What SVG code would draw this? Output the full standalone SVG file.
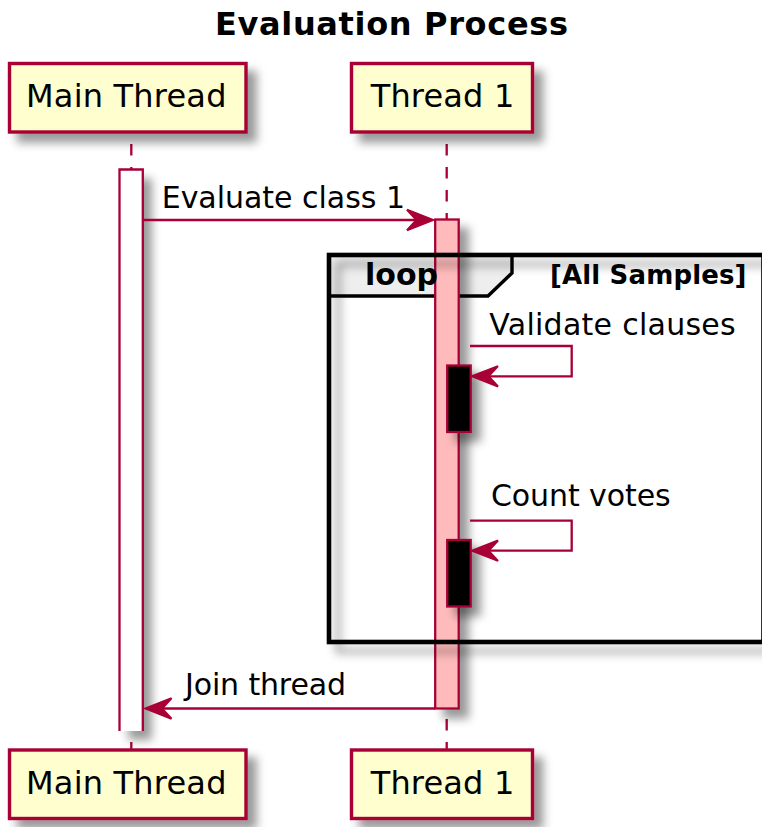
<svg xmlns="http://www.w3.org/2000/svg" width="762" height="827" viewBox="0 0 762 827">
  <defs>
    <filter id="shadow" x="-1" y="-1" width="3" height="3">
      <feGaussianBlur in="SourceAlpha" stdDeviation="4.6" result="blur"/>
      <feOffset in="blur" dx="9" dy="9" result="off"/>
      <feColorMatrix in="off" type="matrix" values="0 0 0 0 0  0 0 0 0 0  0 0 0 0 0  0 0 0 0.4 0" result="shade"/>
      <feMerge>
        <feMergeNode in="shade"/>
        <feMergeNode in="SourceGraphic"/>
      </feMerge>
    </filter>
  </defs>
  <style>
    .head { fill: #FEFECE; stroke: #A80036; stroke-width: 3.4; filter: url(#shadow); }
    .headtxt { font-family: "DejaVu Sans", Verdana, sans-serif; font-size: 32px; fill: #000000; }
    .life { stroke: #A80036; stroke-width: 2.3; stroke-dasharray: 11.5 11.5; stroke-dashoffset: 12; fill: none; }
    .act { stroke: #A80036; stroke-width: 2.3; filter: url(#shadow); }
    .edge { stroke: #A80036; stroke-width: 2.3; fill: none; }
    .msg { stroke: #A80036; stroke-width: 2.3; fill: none; }
    .tip { fill: #A80036; stroke: #A80036; stroke-width: 2; stroke-linejoin: miter; }
    .msgtxt { font-family: "DejaVu Sans", Verdana, sans-serif; font-size: 30px; fill: #000000; }
    .frame { fill: none; stroke: #000000; stroke-width: 4.6; filter: url(#shadow); }
    .tab { fill: #EEEEEE; stroke: #000000; stroke-width: 3.4; }
    .bold { font-family: "DejaVu Sans", Verdana, sans-serif; font-weight: bold; fill: #000000; }
  </style>

  <rect x="0" y="0" width="762" height="827" fill="#FFFFFF"/>

  <text class="bold" x="215" y="35" font-size="32" textLength="353">Evaluation Process</text>

  <!-- lifelines -->
  <g id="lifelines">
    <line class="life" x1="131.3" y1="133" x2="131.3" y2="749"/>
    <line class="life" x1="446.7" y1="133" x2="446.7" y2="749"/>
  </g>

  <!-- participant heads, top and bottom -->
  <g id="main-thread">
    <rect class="head" x="9.5" y="63.5" width="236.5" height="68.5"/>
    <text class="headtxt" x="26" y="107.3" textLength="200.5">Main Thread</text>
    <rect class="head" x="9.5" y="750" width="236.5" height="68.5"/>
    <text class="headtxt" x="26" y="794" textLength="200.5">Main Thread</text>
  </g>
  <g id="thread-1">
    <rect class="head" x="351.5" y="63.5" width="181" height="68.5"/>
    <text class="headtxt" x="370.7" y="107.3" textLength="143.6">Thread 1</text>
    <rect class="head" x="351.5" y="750" width="181" height="68.5"/>
    <text class="headtxt" x="370.7" y="794" textLength="143.6">Thread 1</text>
  </g>

  <!-- loop fragment: tab background -->
  <g id="loop-tab">
    <path class="tab" d="M329,255 H512 V273 L488,296 H329 Z"/>
  </g>

  <!-- activation bars; the main thread bar stays open at the bottom -->
  <g id="activations">
    <rect x="119.5" y="169.5" width="23.3" height="561.5" fill="#FFFFFF" filter="url(#shadow)"/>
    <path class="edge" d="M119.5,731 V169.5 H142.8 V731"/>
    <rect class="act" x="435.2" y="219.5" width="23.5" height="489" fill="#FFBBBB"/>
    <rect class="act" x="447.2" y="365.5" width="23.5" height="66.5" fill="#000000"/>
    <rect class="act" x="447.2" y="540" width="23.5" height="66.5" fill="#000000"/>
  </g>

  <!-- loop fragment outline and labels -->
  <g id="loop-frame">
    <rect class="frame" x="329" y="255" width="434.5" height="387"/>
    <text class="bold" x="365" y="285" font-size="30" textLength="73">loop</text>
    <text class="bold" x="550" y="283.5" font-size="26" textLength="196.5">[All Samples]</text>
  </g>

  <!-- messages -->
  <g id="connectors">
    <line class="msg" x1="142.8" y1="220" x2="428" y2="220"/>
    <polygon class="tip" points="433,220 407,209.8 416.5,220 407,230.2"/>
    <text class="msgtxt" x="161.7" y="208" textLength="243.3">Evaluate class 1</text>

    <path class="msg" d="M470,346 H571.7 V376.3 H476"/>
    <polygon class="tip" points="472,376.3 498,366.1 488.5,376.3 498,386.5"/>
    <text class="msgtxt" x="489.3" y="335" textLength="246.4">Validate clauses</text>

    <path class="msg" d="M470,520.7 H571.7 V550.7 H476"/>
    <polygon class="tip" points="472,550.7 498,540.5 488.5,550.7 498,560.9"/>
    <text class="msgtxt" x="491" y="506" textLength="179.7">Count votes</text>

    <line class="msg" x1="435" y1="708.5" x2="150" y2="708.5"/>
    <polygon class="tip" points="145.5,708.5 171.5,698.3 162,708.5 171.5,718.7"/>
    <text class="msgtxt" x="185" y="695" textLength="161">Join thread</text>
  </g>
</svg>
